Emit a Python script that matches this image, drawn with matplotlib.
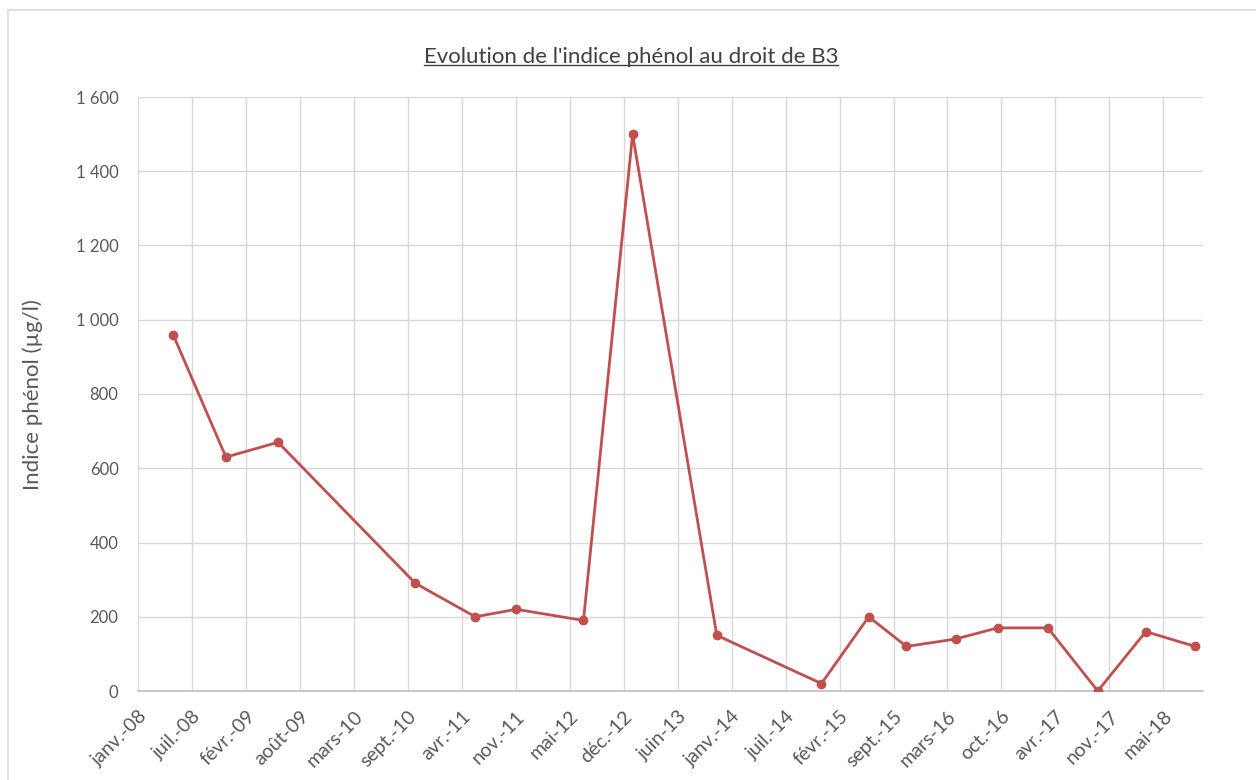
import datetime
import matplotlib
matplotlib.use('Agg')
import matplotlib.pyplot as plt
from matplotlib.lines import Line2D
from matplotlib.patches import Rectangle

# Sampling dates and phenol index (µg/l) at B3
dates = ['2008-05-10', '2008-11-22', '2009-06-03', '2010-10-25', '2011-06-04',
         '2011-11-03', '2012-07-09', '2013-01-07', '2013-11-15', '2014-12-08',
         '2015-06-01', '2015-10-19', '2016-04-18', '2016-09-21', '2017-03-26',
         '2017-09-27', '2018-03-24', '2018-09-23']
phenol = [960, 630, 670, 290, 200, 220, 190, 1500, 150, 20,
          200, 120, 140, 170, 170, 0, 160, 120]

tick_labels = ['janv.-08', 'juil.-08', 'févr.-09', 'août-09', 'mars-10',
               'sept.-10', 'avr.-11', 'nov.-11', 'mai-12', 'déc.-12',
               'juin-13', 'janv.-14', 'juil.-14', 'févr.-15', 'sept.-15',
               'mars-16', 'oct.-16', 'avr.-17', 'nov.-17', 'mai-18']
y_ticks = [0, 200, 400, 600, 800, 1000, 1200, 1400, 1600]

plt.rcParams['font.family'] = ['Lato', 'DejaVu Sans']

x = [datetime.datetime.strptime(d, '%Y-%m-%d') for d in dates]
start = datetime.datetime(2008, 1, 1)
ticks = [start + datetime.timedelta(days=200 * i) for i in range(len(tick_labels))]

fig = plt.figure(figsize=(12.56, 7.8), dpi=100)
fig.patches.append(Rectangle((8 / 1256, -0.1), 1.2, 1 - 10 / 780 + 0.1,
                             transform=fig.transFigure, fill=False,
                             edgecolor='#D9D9D9', linewidth=1.2))
ax = fig.add_axes([138 / 1256, 1 - 691 / 780, (1203 - 138) / 1256, (691 - 97) / 780])

red = '#C0504D'
ax.plot(x, phenol, color=red, linewidth=2, marker='o', markersize=6,
        markerfacecolor=red, markeredgecolor=red, zorder=3)

ax.set_xlim(start, datetime.datetime(2018, 10, 22))
ax.set_ylim(0, 1600)
ax.set_xticks(ticks)
ax.set_xticklabels(tick_labels, rotation=45, ha='right', rotation_mode='anchor')
ax.set_yticks(y_ticks)
ax.set_yticklabels(['{:,}'.format(v).replace(',', ' ') for v in y_ticks])

ax.grid(True, color='#D9D9D9', linewidth=1)
ax.set_axisbelow(True)
for s in ['top', 'right', 'left']:
    ax.spines[s].set_visible(False)
ax.spines['bottom'].set_color('#BFBFBF')
ax.spines['bottom'].set_linewidth(1.2)
ax.tick_params(axis='both', length=0, colors='#595959')
ax.tick_params(axis='x', pad=12, labelsize=14)
ax.tick_params(axis='y', pad=14, labelsize=12)

fig.text(33 / 1256, 1 - 395 / 780, 'Indice phénol (µg/l)', rotation=90,
         ha='center', va='center', fontsize=16, color='#595959')

title = fig.text(631 / 1256, 1 - 57 / 780, "Evolution de l'indice phénol au droit de B3",
                 ha='center', va='center', fontsize=16, color='#404040')

# underline the title
fig.canvas.draw()
bb = title.get_window_extent().transformed(fig.transFigure.inverted())
fig.lines.append(Line2D([bb.x0, bb.x1], [bb.y0 + 0.002, bb.y0 + 0.002],
                        transform=fig.transFigure, color='#404040', linewidth=1))

fig.savefig('out.png', dpi=100)
